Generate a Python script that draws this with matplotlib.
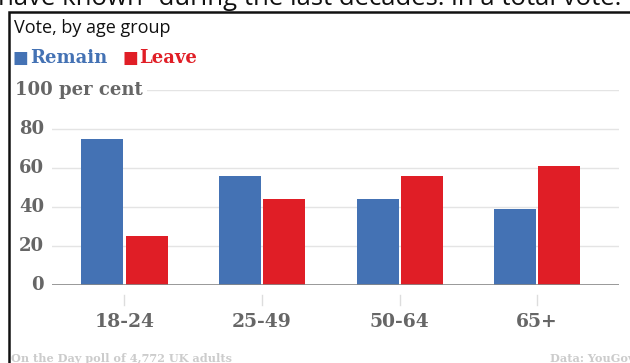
import numpy as np
import matplotlib.pyplot as plt
from matplotlib.patches import Rectangle
from matplotlib.transforms import offset_copy

groups = ['18-24', '25-49', '50-64', '65+']
remain = [75, 56, 44, 39]
leave = [25, 44, 56, 61]
yticks = [0, 20, 40, 60, 80, 100]

blue = '#4472b4'
red = '#e01e26'
grey = '#666666'
slab = 'DejaVu Serif'

W, H = 630, 363
fig = plt.figure(figsize=(W / 100, H / 100), dpi=100)
fig.patch.set_facecolor('white')

def fx(px):
    return px / W

def fy(py):
    return 1 - py / H

# frame around the chart (runs past the right and bottom edges)
fig.patches.append(Rectangle((fx(9), fy(400)), fx(700), fy(12) - fy(400),
                             transform=fig.transFigure, fill=False,
                             edgecolor='#111111', lw=1.8))

# clipped line of article text above the box
fig.text(fx(-2), fy(5), 'have known\u201d during the last decades: in a total vote.',
         family='Open Sans', fontsize=18.5, color='#111111', va='baseline', ha='left')

fig.text(fx(14), fy(28), 'Vote, by age group', family='Open Sans', fontsize=13,
         color='#111111', va='center')

fig.text(fx(13), fy(58), '\u25a0', color=blue, fontsize=12, va='center')
fig.text(fx(30), fy(58), 'Remain', family=slab, weight='bold', color=blue, fontsize=13, va='center')
fig.text(fx(122), fy(58), '\u25a0', color=red, fontsize=12, va='center')
fig.text(fx(139), fy(58), 'Leave', family=slab, weight='bold', color=red, fontsize=13, va='center')

ax = fig.add_axes([fx(52), fy(285), fx(619) - fx(52), fy(90) - fy(285)])
x = np.arange(len(groups))
bw = 0.305
ax.bar(x - bw / 2 - 0.008, remain, bw, color=blue, zorder=3)
ax.bar(x + bw / 2 + 0.008, leave, bw, color=red, zorder=3)

ax.set_xlim(-0.527, 3.595)
ax.set_ylim(0, 100)
for s in ax.spines.values():
    s.set_visible(False)
ax.axhline(0, color='#888888', lw=1.2, zorder=4)
for v in yticks[1:]:
    ax.axhline(v, color='#e4e4e4', lw=1, zorder=1)
ax.set_xticks([])
ax.set_yticks([])

ylab_tr = offset_copy(ax.get_yaxis_transform(), fig=fig, x=-8, y=0, units='dots')
for v in yticks[:-1]:
    ax.text(0, v, str(v), transform=ylab_tr, ha='right', va='center',
            family=slab, weight='bold', fontsize=13, color=grey)
fig.text(fx(15), fy(90), '100 per cent', family=slab, weight='bold', fontsize=13,
         color=grey, va='center', ha='left',
         bbox=dict(facecolor='white', edgecolor='none', pad=3))

for i, g in enumerate(groups):
    ax.plot([i, i], [-5, -10], color='#dddddd', lw=1, clip_on=False)
    ax.text(i, -19, g, ha='center', va='center', family=slab, weight='bold',
            fontsize=13.5, color=grey)

fig.text(fx(11), fy(358), 'On the Day poll of 4,772 UK adults', family=slab, weight='bold',
         fontsize=8.1, color='#cccccc', va='center')
fig.text(fx(550), fy(358), 'Data: YouGov', family=slab, weight='bold',
         fontsize=8.1, color='#cccccc', va='center')

fig.savefig('out.png', dpi=100)
